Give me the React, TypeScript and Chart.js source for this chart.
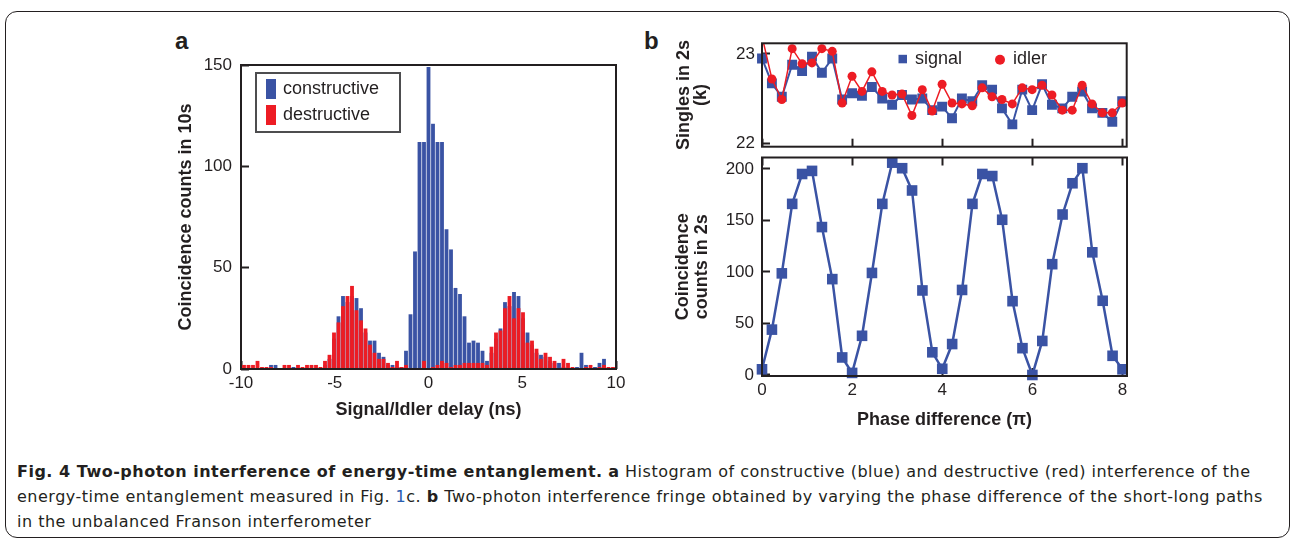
import React, { useEffect, useRef } from 'react';
import { Chart, registerables } from 'chart.js';

Chart.register(...registerables);

// ---------------- data: panel a (histogram) ----------------
const delayNs = [
  -9.84, -9.6, -9.36, -9.12, -8.88, -8.64, -8.4, -8.16, -7.92, -7.68,
  -7.44, -7.2, -6.96, -6.72, -6.48, -6.24, -6.0, -5.76, -5.52, -5.28,
  -5.04, -4.8, -4.56, -4.32, -4.08, -3.84, -3.6, -3.36, -3.12, -2.88,
  -2.64, -2.4, -2.16, -1.92, -1.68, -1.44, -1.2, -0.96, -0.72, -0.48,
  -0.24, 0, 0.24, 0.48, 0.72, 0.96, 1.2, 1.44, 1.68, 1.92,
  2.16, 2.4, 2.64, 2.88, 3.12, 3.36, 3.6, 3.84, 4.08, 4.32,
  4.56, 4.8, 5.04, 5.28, 5.52, 5.76, 6.0, 6.24, 6.48, 6.72,
  6.96, 7.2, 7.44, 7.68, 7.92, 8.16, 8.4, 8.64, 8.88, 9.12,
  9.36, 9.6, 9.84,
];
const constructiveCounts = [
  0, 0, 0, 0, 0, 0, 2, 2, 0, 0,
  0, 1, 0, 0, 0, 0, 0, 0, 2, 5,
  15, 26, 36, 33, 36, 35, 30, 18, 14, 14,
  8, 6, 2, 2, 1, 1, 9, 27, 58, 112,
  112, 149, 121, 112, 112, 69, 59, 40, 37, 26,
  13, 14, 13, 9, 4, 8, 15, 20, 33, 31,
  38, 36, 25, 18, 12, 8, 7, 6, 4, 3,
  3, 1, 0, 0, 1, 8, 2, 0, 1, 3,
  5, 0, 0,
];
const destructiveCounts = [
  2, 2, 2, 4, 1, 1, 1, 0, 0, 2,
  2, 0, 2, 1, 2, 2, 2, 1, 4, 7,
  18, 23, 31, 36, 41, 29, 24, 20, 12, 8,
  5, 5, 3, 1, 4, 1, 2, 0, 0, 0,
  4, 0, 1, 2, 4, 3, 1, 2, 2, 3,
  3, 3, 3, 3, 2, 11, 18, 19, 30, 36,
  25, 30, 28, 13, 14, 10, 5, 8, 6, 4,
  0, 5, 3, 1, 0, 0, 1, 2, 0, 1,
  2, 1, 1,
];
const delayTicks = [-10, -5, 0, 5, 10];
const countTicks = [0, 50, 100, 150];

// ---------------- data: panel b ----------------
const phasePi = [
  0, 0.22, 0.44, 0.67, 0.89, 1.11, 1.33, 1.56, 1.78, 2,
  2.22, 2.44, 2.67, 2.89, 3.11, 3.33, 3.56, 3.78, 4, 4.22,
  4.44, 4.67, 4.89, 5.11, 5.33, 5.56, 5.78, 6, 6.22, 6.44,
  6.67, 6.89, 7.11, 7.33, 7.56, 7.78, 8,
];
const signalSingles = [
  22.95, 22.67, 22.52, 22.88, 22.81, 22.97, 22.79, 22.95, 22.49, 22.56,
  22.53, 22.63, 22.5, 22.43, 22.54, 22.49, 22.5, 22.37, 22.41, 22.28,
  22.5, 22.47, 22.65, 22.6, 22.39, 22.21, 22.6, 22.37, 22.66, 22.43,
  22.39, 22.52, 22.58, 22.39, 22.34, 22.24, 22.47,
];
const idlerSingles = [
  23.2, 22.72, 22.49, 23.06, 22.89, 22.9, 23.06, 23.03, 22.45, 22.75,
  22.58, 22.8, 22.58, 22.54, 22.55, 22.31, 22.6, 22.36, 22.66, 22.45,
  22.44, 22.42, 22.62, 22.52, 22.49, 22.44, 22.62, 22.6, 22.65, 22.54,
  22.37, 22.37, 22.65, 22.44, 22.34, 22.34, 22.45,
];
const coincidenceCounts = [
  5.5, 44, 98.6, 166, 195, 198, 143.5, 93, 17, 2,
  38, 99, 166, 206, 200.6, 179, 82, 22, 6, 30,
  82.5, 166, 195, 193, 150.6, 71.6, 26, 0, 33, 107.5,
  155.7, 186, 200.6, 119, 72, 18.6, 5.5,
];
const phaseTicks = [0, 2, 4, 6, 8];
const singlesTicks = [22, 23];
const coincidenceTicks = [0, 50, 100, 150, 200];

// ---------------- style ----------------
const INK = '#231f20';
const BLUE = '#3a53a4';
const RED = '#ed1c24';
const FONT = '"Liberation Sans", Arial, Helvetica, sans-serif';
const TICK_FONT = { family: FONT, size: 17 };

function inwardGrid() {
  return {
    display: true,
    drawOnChartArea: false,
    drawTicks: true,
    tickLength: -8,
    tickColor: INK,
    tickWidth: 2,
    color: INK,
  };
}

function fixedTicks(values: number[]) {
  return (s: any) => {
    s.ticks = values.map((v) => ({ value: v }));
  };
}

function xAxis(opts: any) {
  return {
    type: 'linear',
    position: opts.position || 'bottom',
    min: opts.min,
    max: opts.max,
    offset: false,
    afterBuildTicks: fixedTicks(opts.ticks),
    afterFit: (s: any) => {
      s.height = opts.height;
      s.paddingLeft = 0;
      s.paddingRight = 0;
    },
    ticks: {
      display: opts.showLabels !== false,
      color: INK,
      font: TICK_FONT,
      padding: 12,
      maxRotation: 0,
      autoSkip: false,
      callback: (v: any) => String(v),
    },
    grid: { ...inwardGrid(), offset: false },
    border: { display: false },
    title: opts.title
      ? {
          display: true,
          text: opts.title,
          color: INK,
          font: { family: FONT, size: 18, weight: 'bold' },
          padding: { top: 0, bottom: opts.titlePad },
        }
      : { display: false },
  };
}

function yAxis(opts: any) {
  return {
    type: 'linear',
    position: 'left',
    min: opts.min,
    max: opts.max,
    afterBuildTicks: fixedTicks(opts.ticks),
    afterFit: (s: any) => {
      s.width = opts.width;
      s.paddingTop = 0;
      s.paddingBottom = 0;
    },
    ticks: {
      color: INK,
      font: TICK_FONT,
      padding: opts.labelPad,
      autoSkip: false,
      callback: (v: any) => String(v),
    },
    grid: inwardGrid(),
    border: { display: false },
    title: {
      display: true,
      text: opts.title,
      color: INK,
      font: { family: FONT, size: 18, weight: 'bold', lineHeight: opts.titleLineHeight || 1.2 },
      padding: { top: opts.titlePad, bottom: 0 },
    },
  };
}

const framePlugin = {
  id: 'frame',
  afterDraw(chart: any) {
    const { ctx, chartArea: a } = chart;
    ctx.save();
    ctx.strokeStyle = INK;
    ctx.lineWidth = 2;
    ctx.strokeRect(a.left, a.top, a.right - a.left, a.bottom - a.top);
    ctx.restore();
  },
};

const baseOptions = {
  responsive: false,
  animation: false,
  devicePixelRatio: 1,
  events: [],
};

// ---------------- configs ----------------
function histogramConfig(): any {
  const legendPlugin = {
    id: 'histLegend',
    afterDraw(chart: any) {
      const { ctx, chartArea: a } = chart;
      ctx.save();
      ctx.strokeStyle = '#4d4d4f';
      ctx.lineWidth = 2;
      ctx.fillStyle = '#ffffff';
      ctx.fillRect(a.left + 15, a.top + 8, 144, 59);
      ctx.strokeRect(a.left + 15, a.top + 8, 144, 59);
      ctx.font = `18px ${FONT}`;
      ctx.textBaseline = 'middle';
      chart.data.datasets.forEach((ds: any, i: number) => {
        ctx.fillStyle = ds.backgroundColor;
        ctx.fillRect(a.left + 25, a.top + 14 + i * 26, 10, 20);
        ctx.fillStyle = INK;
        ctx.fillText(ds.label, a.left + 42, a.top + 24 + i * 26);
      });
      ctx.restore();
    },
  };
  return {
    type: 'bar',
    data: {
      datasets: [
        {
          label: 'constructive',
          data: delayNs.map((x, i) => ({ x, y: constructiveCounts[i] })),
          backgroundColor: BLUE,
          borderWidth: 0,
          grouped: false,
          order: 1,
          barPercentage: 0.85,
          categoryPercentage: 1,
        },
        {
          label: 'destructive',
          data: delayNs.map((x, i) => ({ x, y: destructiveCounts[i] })),
          backgroundColor: RED,
          borderWidth: 0,
          grouped: false,
          order: 0,
          barPercentage: 0.85,
          categoryPercentage: 1,
        },
      ],
    },
    options: {
      ...baseOptions,
      layout: { padding: { left: 0, top: 35, right: 24, bottom: 0 } },
      plugins: { legend: { display: false }, tooltip: { enabled: false } },
      scales: {
        x: xAxis({ min: -10, max: 10, ticks: delayTicks, height: 71, title: 'Signal/Idler delay (ns)', titlePad: 19 }),
        y: yAxis({ min: 0, max: 150, ticks: countTicks, width: 81, labelPad: 17, title: 'Coincidence counts in 10s', titlePad: 15 }),
      },
    },
    plugins: [framePlugin, legendPlugin],
  };
}

function singlesConfig(): any {
  const legendPlugin = {
    id: 'singlesLegend',
    afterDraw(chart: any) {
      const { ctx, chartArea: a } = chart;
      ctx.save();
      ctx.font = `18px ${FONT}`;
      ctx.textBaseline = 'middle';
      ctx.fillStyle = BLUE;
      ctx.fillRect(a.left + 136.5, a.top + 11.5, 8.5, 8.5);
      ctx.fillStyle = INK;
      ctx.fillText(chart.data.datasets[0].label, a.left + 153, a.top + 15.5);
      ctx.fillStyle = RED;
      ctx.beginPath();
      ctx.arc(a.left + 238, a.top + 16.5, 5, 0, Math.PI * 2);
      ctx.fill();
      ctx.fillStyle = INK;
      ctx.fillText(chart.data.datasets[1].label, a.left + 251, a.top + 15.5);
      ctx.restore();
    },
  };
  return {
    type: 'line',
    data: {
      datasets: [
        {
          label: 'signal',
          data: phasePi.map((x, i) => ({ x, y: signalSingles[i] })),
          borderColor: BLUE,
          backgroundColor: BLUE,
          borderWidth: 2,
          pointStyle: 'rect',
          pointRadius: 7,
          pointBorderWidth: 0,
          order: 1,
          clip: { left: 10, right: 10, top: 0, bottom: 0 },
        },
        {
          label: 'idler',
          data: phasePi.map((x, i) => ({ x, y: idlerSingles[i] })),
          borderColor: RED,
          backgroundColor: RED,
          borderWidth: 1.5,
          pointStyle: 'circle',
          pointRadius: 4.5,
          pointBorderWidth: 0,
          order: 0,
          clip: { left: 10, right: 10, top: 0, bottom: 0 },
        },
      ],
    },
    options: {
      ...baseOptions,
      layout: { padding: { left: 0, top: 23.3, right: 13.3, bottom: 9.3 } },
      plugins: { legend: { display: false }, tooltip: { enabled: false } },
      scales: {
        x: xAxis({ min: 0, max: 8.1, ticks: phaseTicks, height: 0, showLabels: false }),
        y: yAxis({
          min: 21.96,
          max: 23.12,
          ticks: singlesTicks,
          width: 102,
          labelPad: 15,
          title: ['Singles in 2s', '(k)'],
          titleLineHeight: 0.95,
          titlePad: 15.5,
        }),
      },
    },
    plugins: [framePlugin, legendPlugin],
  };
}

function fringeConfig(): any {
  return {
    type: 'line',
    data: {
      datasets: [
        {
          label: 'coincidence',
          data: phasePi.map((x, i) => ({ x, y: coincidenceCounts[i] })),
          borderColor: BLUE,
          backgroundColor: BLUE,
          borderWidth: 2.5,
          pointStyle: 'rect',
          pointRadius: 7.5,
          pointBorderWidth: 0,
          clip: 10,
        },
      ],
    },
    options: {
      ...baseOptions,
      layout: { padding: { left: 0, top: 6, right: 13, bottom: 0 } },
      plugins: { legend: { display: false }, tooltip: { enabled: false } },
      scales: {
        x: xAxis({ min: 0, max: 8.1, ticks: phaseTicks, height: 64, title: 'Phase difference (\u03c0)', titlePad: 9 }),
        xTop: xAxis({ position: 'top', min: 0, max: 8.1, ticks: phaseTicks, height: 0, showLabels: false }),
        y: yAxis({
          min: -1,
          max: 211,
          ticks: coincidenceTicks,
          width: 102,
          labelPad: 16,
          title: ['Coincidence', 'counts in 2s'],
          titleLineHeight: 1.05,
          titlePad: 13.5,
        }),
      },
    },
    plugins: [framePlugin],
  };
}

function ChartCanvas(props: { make: () => any; left: number; top: number; width: number; height: number }) {
  const ref = useRef<HTMLCanvasElement | null>(null);
  useEffect(() => {
    if (!ref.current) return;
    const chart = new Chart(ref.current, props.make());
    return () => chart.destroy();
  }, []);
  return (
    <canvas
      ref={ref}
      width={props.width}
      height={props.height}
      style={{ position: 'absolute', left: props.left, top: props.top, width: props.width, height: props.height }}
    />
  );
}

export default function App() {
  const panelLabel: React.CSSProperties = {
    position: 'absolute',
    fontFamily: FONT,
    fontWeight: 'bold',
    fontSize: 24,
    lineHeight: '24px',
    color: INK,
  };
  const captionLine: React.CSSProperties = { whiteSpace: 'nowrap', height: 25 };
  return (
    <div
      style={{
        position: 'fixed',
        left: 0,
        top: 0,
        width: 1295,
        height: 539,
        background: '#ffffff',
        overflow: 'hidden',
      }}
    >
      <div
        style={{
          position: 'absolute',
          left: 5,
          top: 11,
          width: 1285,
          height: 527,
          border: `1.5px solid ${INK}`,
          borderRadius: 12,
          boxSizing: 'border-box',
        }}
      />
      <div style={{ ...panelLabel, left: 175, top: 29 }}>a</div>
      <div style={{ ...panelLabel, left: 644, top: 29 }}>b</div>
      <ChartCanvas make={histogramConfig} left={160} top={30} width={480} height={410} />
      <ChartCanvas make={singlesConfig} left={660} top={20} width={480} height={136} />
      <ChartCanvas make={fringeConfig} left={660} top={150} width={480} height={290} />
      <div
        style={{
          position: 'absolute',
          left: 17,
          top: 459,
          fontFamily: '"DejaVu Sans", sans-serif',
          fontSize: 16,
          letterSpacing: '0.5px',
          lineHeight: '25px',
          color: INK,
        }}
      >
        <div style={captionLine}>
          <b>Fig. 4 Two-photon interference of energy-time entanglement.</b> <b>a</b> Histogram of constructive (blue) and
          destructive (red) interference of the
        </div>
        <div style={captionLine}>
          energy-time entanglement measured in Fig. <span style={{ color: '#2a5db0' }}>1</span>c. <b>b</b> Two-photon
          interference fringe obtained by varying the phase difference of the short-long paths
        </div>
        <div style={captionLine}>in the unbalanced Franson interferometer</div>
      </div>
    </div>
  );
}
